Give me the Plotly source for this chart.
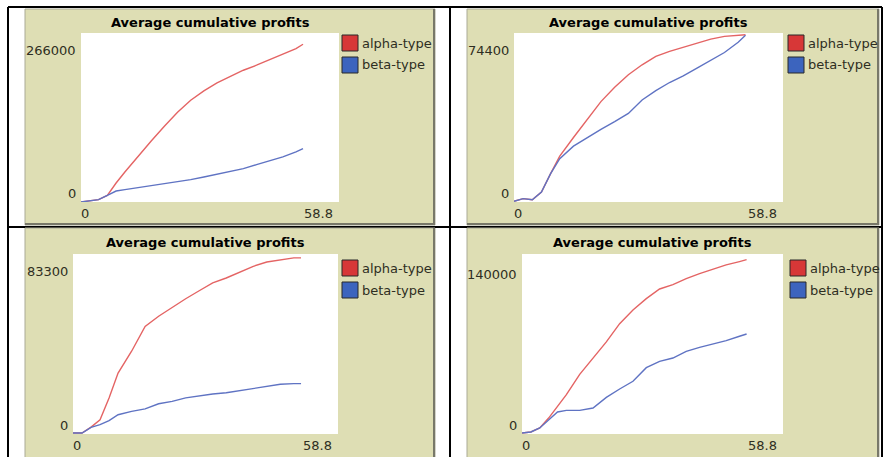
import plotly.graph_objects as go

W, H = 885, 457

# ---------------- data ----------------
X = [0, 2, 4, 6, 8, 10, 13, 16, 19, 22, 25, 28, 31, 34, 37, 40, 43, 46, 49, 50.6]

P1_ALPHA = [0, 2100, 3700, 10500, 29900, 47300, 71900, 96100, 119200, 141200, 160100,
            174800, 187400, 197900, 207400, 215300, 224200, 232600, 241500, 248300]
P1_BETA = [0, 2100, 3700, 10500, 17300, 19400, 22600, 25200, 28400, 31500, 35200,
           39400, 43600, 47200, 52500, 58800, 64600, 70900, 78800, 84000]

P2_ALPHA = [300, 1500, 1000, 4400, 12500, 20200, 28400, 36400, 44200, 50500, 56000,
            60400, 64100, 66300, 68200, 70000, 71700, 72900, 73400, 73600]
P2_BETA = [300, 1500, 1000, 4400, 12500, 19100, 24600, 28400, 32000, 35400, 39000,
           44900, 49000, 52600, 55500, 58900, 62200, 65800, 70300, 73400]

P3_ALPHA = [460, 460, 3200, 6600, 16700, 28200, 38300, 49800, 54500, 58600, 62600,
            66300, 69900, 72200, 75000, 77600, 79600, 80700, 81500, 81500]
P3_BETA = [460, 460, 3100, 4300, 6200, 8900, 10500, 11600, 14000, 15100, 16700,
           17700, 18500, 19100, 20100, 21300, 22100, 23000, 23300, 23300]

P4_ALPHA = [780, 1560, 4700, 12400, 21500, 30600, 46400, 59100, 71600, 85800, 96500,
            105300, 112800, 116200, 120800, 124700, 128400, 131500, 134100, 135600]
P4_BETA = [780, 1560, 4700, 11100, 17100, 18400, 18400, 20200, 28500, 35000, 41000,
           51600, 56500, 59100, 64300, 67400, 69800, 72600, 76000, 77800]

Y_MAX = [266000, 74400, 83300, 140000]
Y_MAX_LABELS = ["266000", "74400", "83300", "140000"]
X_MAX = 58.8
X_MAX_LABEL = "58.8"
ZERO_LABEL = "0"
TITLE = "Average cumulative profits"
SERIES = ["alpha-type", "beta-type"]

ALPHA = [P1_ALPHA, P2_ALPHA, P3_ALPHA, P4_ALPHA]
BETA = [P1_BETA, P2_BETA, P3_BETA, P4_BETA]

# ---------------- geometry (pixels) ----------------
PLOT_BOX = [(81, 339, 33, 202), (514, 783, 33, 202), (73, 338, 254, 434), (522, 783, 254, 434)]
PANEL_BOX = [(25, 435, 9, 225), (467, 879, 9, 225), (25, 435, 228, 458), (467, 879, 228, 458)]
LEGEND_POS = [(342, 35), (788, 35), (342, 260), (790, 260)]
YMAX_OFF = [17, 17, 17, 20]

KHAKI = "rgb(222,222,180)"
LINE_RED = "rgb(228,100,100)"
LINE_BLUE = "rgb(95,115,195)"
SQ_RED = "rgb(215,55,55)"
SQ_BLUE = "rgb(60,100,190)"
TXT = "#2e2e22"
FONT = "DejaVu Sans"


def fx(p):
    return p / W


def fy(p):
    return 1 - p / H


fig = go.Figure()
shapes = []
annotations = []

# table lines (under the panels)
for (x0, y0, x1, y1) in [(8, 7, 882, 7), (8, 7, 8, 457), (882, 7, 882, 457),
                         (450, 7, 450, 457), (8, 227, 882, 227)]:
    shapes.append(dict(type="line", xref="paper", yref="paper", layer="below",
                       x0=fx(x0), y0=fy(y0), x1=fx(x1), y1=fy(y1),
                       line=dict(color="black", width=2)))

for i in range(4):
    L, R, T, B = PANEL_BOX[i]
    shapes.append(dict(type="rect", xref="paper", yref="paper", layer="below",
                       x0=fx(L), x1=fx(R), y0=fy(B), y1=fy(T),
                       fillcolor=KHAKI, line=dict(color="rgb(170,170,150)", width=1)))
    shapes.append(dict(type="line", xref="paper", yref="paper", layer="below",
                       x0=fx(R - 1), x1=fx(R - 1), y0=fy(B), y1=fy(T),
                       line=dict(color="rgb(120,120,105)", width=2)))
    if B < 450:
        shapes.append(dict(type="line", xref="paper", yref="paper", layer="below",
                           x0=fx(L), x1=fx(R), y0=fy(B - 1), y1=fy(B - 1),
                           line=dict(color="rgb(120,120,105)", width=2)))

    pl, pr, pt, pb = PLOT_BOX[i]
    # white plotting area
    shapes.append(dict(type="rect", xref="paper", yref="paper", layer="below",
                       x0=fx(pl), x1=fx(pr), y0=fy(pb), y1=fy(pt),
                       fillcolor="white", line=dict(width=0)))

    k = "" if i == 0 else str(i + 1)
    fig.add_trace(go.Scatter(x=X, y=ALPHA[i], mode="lines", name=SERIES[0],
                             line=dict(color=LINE_RED, width=1.4),
                             xaxis="x" + k, yaxis="y" + k, showlegend=False))
    fig.add_trace(go.Scatter(x=X, y=BETA[i], mode="lines", name=SERIES[1],
                             line=dict(color=LINE_BLUE, width=1.4),
                             xaxis="x" + k, yaxis="y" + k, showlegend=False))
    fig.layout["xaxis" + k] = dict(domain=[fx(pl), fx(pr)], range=[0, X_MAX],
                                   anchor="y" + k, showticklabels=False, showgrid=False,
                                   zeroline=False, showline=False, ticks="")
    fig.layout["yaxis" + k] = dict(domain=[fy(pb), fy(pt)], range=[0, Y_MAX[i]],
                                   anchor="x" + k, showticklabels=False, showgrid=False,
                                   zeroline=False, showline=False, ticks="")

    # title
    annotations.append(dict(xref="paper", yref="paper", x=fx((pl + pr) / 2), y=fy(pt - 11),
                            text="<b>" + TITLE + "</b>", showarrow=False,
                            xanchor="center", yanchor="middle",
                            font=dict(family=FONT, size=13, color="black")))
    # axis labels
    annotations.append(dict(xref="paper", yref="paper", x=fx(pl - 3), y=fy(pt + YMAX_OFF[i]),
                            text=Y_MAX_LABELS[i], showarrow=False,
                            xanchor="right", yanchor="middle",
                            font=dict(family=FONT, size=13, color=TXT)))
    annotations.append(dict(xref="paper", yref="paper", x=fx(pl - 3), y=fy(pb - 9),
                            text=ZERO_LABEL, showarrow=False,
                            xanchor="right", yanchor="middle",
                            font=dict(family=FONT, size=13, color=TXT)))
    annotations.append(dict(xref="paper", yref="paper", x=fx(pl - 2), y=fy(pb + 11),
                            text=ZERO_LABEL, showarrow=False,
                            xanchor="left", yanchor="middle",
                            font=dict(family=FONT, size=13, color=TXT)))
    annotations.append(dict(xref="paper", yref="paper", x=fx(pr - 4), y=fy(pb + 11),
                            text=X_MAX_LABEL, showarrow=False,
                            xanchor="right", yanchor="middle",
                            font=dict(family=FONT, size=13, color=TXT)))

    # legend
    lx, ly = LEGEND_POS[i]
    for j, col in enumerate([SQ_RED, SQ_BLUE]):
        top = ly + 22 * j
        shapes.append(dict(type="rect", xref="paper", yref="paper",
                           x0=fx(lx), x1=fx(lx + 16), y0=fy(top + 16), y1=fy(top),
                           fillcolor=col, line=dict(color="rgb(40,40,40)", width=1)))
        annotations.append(dict(xref="paper", yref="paper", x=fx(lx + 18), y=fy(top + 8),
                                text=SERIES[j], showarrow=False,
                                xanchor="left", yanchor="middle",
                                font=dict(family=FONT, size=13, color=TXT)))

fig.update_layout(width=W, height=H, margin=dict(l=0, r=0, t=0, b=0),
                  paper_bgcolor="white", plot_bgcolor="white",
                  shapes=shapes, annotations=annotations, showlegend=False)

fig.write_html("out.html", config={"displayModeBar": False},
               post_script="document.body.style.margin='0';document.body.style.overflow='hidden';")
